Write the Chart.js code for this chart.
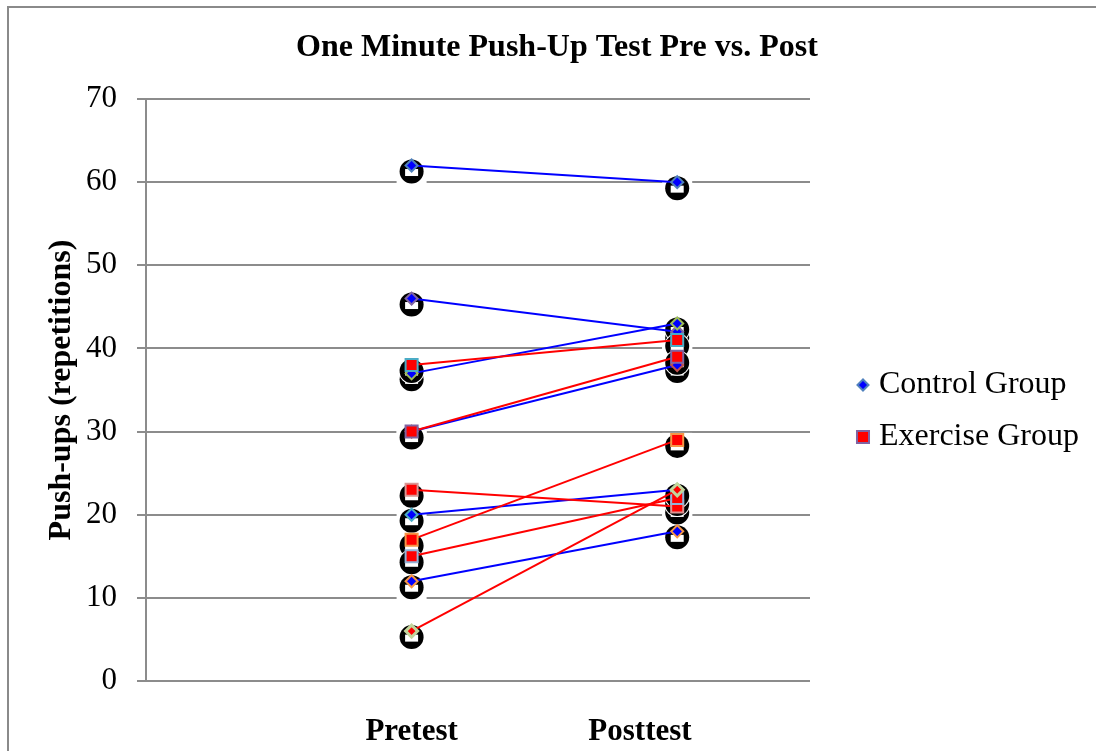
<!DOCTYPE html>
<html>
<head>
<meta charset="utf-8">
<script src="https://cdn.jsdelivr.net/npm/chart.js@4.4.1/dist/chart.umd.min.js"></script>
<style>
  html, body { margin: 0; padding: 0; background: #fff; }
  #wrap { width: 1096px; height: 751px; position: relative; }
</style>
</head>
<body>
<div id="wrap"><canvas id="chart" width="1096" height="751"></canvas></div>
<script>
// Test phases (x categories) and push-up counts per subject
const phases = ['Pretest', 'Posttest'];
const controlPre   = [62, 46, 37, 30, 20, 12];
const controlPost  = [60, 42, 43, 38, 23, 18];
const exercisePre  = [38, 30, 23, 17, 15, 6];
const exercisePost = [41, 39, 21, 29, 22, 23];
const groupNames = ['Control Group', 'Exercise Group'];

// Styling
const SERIF = "'Liberation Serif', 'Times New Roman', serif";
const GRID = '#8c8c8c';
const controlEdges  = ['#4F81BD', '#8064A2', '#9BBB59', '#C0504D', '#4BACC6', '#F79646'];
const exerciseEdges = ['#4BACC6', '#8064A2', '#D99694', '#F79646', '#95B3D7', '#C3D69B'];
const exerciseShapes = ['rect', 'rect', 'rect', 'rect', 'rect', 'rectRot'];
// where the two phase captions sit along the x scale
const phaseLabelAt = [1, 1.86];

const datasets = [];
let k = 0;
controlPre.forEach((v, i) => {
  datasets.push({
    label: groupNames[0],
    data: [{ x: 1, y: v }, { x: 2, y: controlPost[i] }],
    showLine: true,
    borderColor: '#0000FF',
    borderWidth: 2,
    pointStyle: 'rectRot',
    pointRadius: 6,
    pointBorderWidth: 2,
    pointBackgroundColor: '#0000FF',
    pointBorderColor: controlEdges[i],
    order: 100 - k++
  });
});
exercisePre.forEach((v, i) => {
  const rot = exerciseShapes[i] === 'rectRot';
  datasets.push({
    label: groupNames[1],
    data: [{ x: 1, y: v }, { x: 2, y: exercisePost[i] }],
    showLine: true,
    borderColor: '#FF0000',
    borderWidth: 2,
    pointStyle: exerciseShapes[i],
    pointRadius: rot ? 6 : 8.5,
    pointBorderWidth: rot ? 3 : 2,
    pointBackgroundColor: '#FF0000',
    pointBorderColor: exerciseEdges[i],
    order: 100 - k++
  });
});

// Dark rounded shadows behind every marker
const shadowPlugin = {
  id: 'markerShadows',
  beforeDatasetsDraw(chart) {
    const ctx = chart.ctx;
    const pts = [];
    chart.data.datasets.forEach((ds, i) => {
      chart.getDatasetMeta(i).data.forEach(el => pts.push({ x: el.x, y: el.y }));
    });
    ctx.save();
    ctx.fillStyle = '#fff';
    pts.forEach(p => ctx.fillRect(p.x - 15, p.y - 7, 30, 26));
    pts.forEach(p => {
      const cy = p.y + 6;
      ctx.beginPath();
      ctx.arc(p.x, cy, 13, 0, Math.PI * 2);
      ctx.fillStyle = '#fff';
      ctx.fill();
      ctx.beginPath();
      ctx.arc(p.x, cy, 12, 0, Math.PI * 2);
      ctx.fillStyle = '#000';
      ctx.fill();
      ctx.fillStyle = '#fff';
      ctx.fillRect(p.x - 6.5, p.y + 3.5, 13, 7);
    });
    ctx.restore();
  }
};

// Two-entry legend for the groups
const groupLegend = {
  id: 'groupLegend',
  afterDraw(chart) {
    const { ctx, chartArea } = chart;
    const mid = (chartArea.top + chartArea.bottom) / 2;
    const items = [
      { text: groupNames[0], style: 'rectRot', r: 5.5, fill: '#0000FF', edge: '#4F81BD', bw: 2 },
      { text: groupNames[1], style: 'rect', r: 8.5, fill: '#FF0000', edge: '#8064A2', bw: 2 }
    ];
    ctx.save();
    items.forEach((it, i) => {
      const y = mid - 5 + i * 52;
      const mx = chartArea.right + 53;
      ctx.fillStyle = it.fill;
      ctx.strokeStyle = it.edge;
      ctx.lineWidth = it.bw;
      Chart.helpers.drawPoint(ctx, { pointStyle: it.style, radius: it.r, rotation: 0, borderWidth: it.bw }, mx, y);
      ctx.fillStyle = '#000';
      ctx.font = '32px ' + SERIF;
      ctx.textBaseline = 'middle';
      ctx.textAlign = 'left';
      ctx.fillText(it.text, chartArea.right + 69, y);
    });
    ctx.restore();
  }
};

// White page with the frame's left and top edges
const framePlugin = {
  id: 'frame',
  beforeDraw(chart) {
    const ctx = chart.ctx;
    ctx.save();
    ctx.fillStyle = '#fff';
    ctx.fillRect(0, 0, chart.width, chart.height);
    ctx.strokeStyle = '#8a8a8a';
    ctx.lineWidth = 2;
    ctx.beginPath();
    ctx.moveTo(8, chart.height);
    ctx.lineTo(8, 7);
    ctx.lineTo(chart.width, 7);
    ctx.stroke();
    ctx.restore();
  }
};

new Chart(document.getElementById('chart'), {
  type: 'scatter',
  data: { datasets },
  options: {
    responsive: false,
    animation: false,
    events: [],
    layout: { padding: { left: 18, right: 0, top: 0, bottom: 0 } },
    plugins: {
      legend: { display: false },
      tooltip: { enabled: false },
      title: {
        display: true,
        text: 'One Minute Push-Up Test Pre vs. Post',
        color: '#000',
        font: { family: SERIF, size: 32, weight: 'bold', lineHeight: 1.2 },
        padding: { top: 29, bottom: 31.6 }
      }
    },
    scales: {
      x: {
        type: 'linear',
        min: 0,
        max: 2.5,
        grid: { display: false, drawTicks: false },
        border: { display: false },
        afterBuildTicks: axis => { axis.ticks = phaseLabelAt.map(v => ({ value: v })); },
        afterFit: s => { s.height = 70; },
        ticks: {
          autoSkip: false,
          maxRotation: 0,
          padding: 32,
          color: '#000',
          font: { family: SERIF, size: 31, weight: 'bold' },
          callback: (v, i) => phases[i]
        }
      },
      y: {
        min: 0,
        max: 70,
        afterFit: s => { s.width = 128; },
        ticks: { stepSize: 10, padding: 20, color: '#000', font: { family: SERIF, size: 31 } },
        grid: { color: GRID, lineWidth: 2, tickLength: 9 },
        border: { color: GRID, width: 2 },
        title: {
          display: true,
          text: 'Push-ups (repetitions)',
          color: '#000',
          font: { family: SERIF, size: 32, weight: 'bold', lineHeight: 1.2 },
          padding: { top: 25, bottom: 0 }
        }
      },
      side: {
        position: 'right',
        display: true,
        grid: { display: false },
        border: { display: false },
        ticks: { display: false },
        afterFit: s => { s.width = 286; }
      }
    }
  },
  plugins: [framePlugin, shadowPlugin, groupLegend]
});
</script>
</body>
</html>
